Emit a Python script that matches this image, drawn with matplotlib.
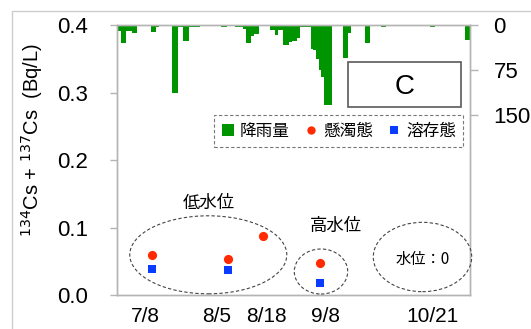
import numpy as np
import pandas as pd
import matplotlib
matplotlib.use('Agg')
import matplotlib.pyplot as plt
import matplotlib.dates as mdates
import matplotlib.transforms as mtransforms
from matplotlib.patches import Ellipse, Rectangle
from matplotlib.lines import Line2D

# ---------------- data ----------------
rain_start = '2011-06-26'
rain_mm = [10, 30, 30, 10, 10, 13, 13, 2, 2, 2,
           2, 2, 11, 11, 3, 0, 0, 0, 0, 0,
           113, 113, 3, 3, 26, 26, 3, 3, 3, 3,
           0, 0, 0, 0, 0, 0, 0, 0, 4, 4,
           0, 0, 0, 3, 3, 3, 6, 30, 30, 18,
           15, 15, 0, 0, 0, 0, 8, 8, 17, 8,
           8, 34, 34, 28, 26, 26, 22, 4, 4, 4,
           4, 40, 42, 57, 75, 86, 133, 133, 133, 0,
           0, 0, 0, 55, 55, 14, 0, 0, 0, 0,
           0, 30, 30, 0, 0, 0, 0, 3, 3, 0,
           0, 0, 0, 0, 0, 0, 0, 0, 0, 0,
           0, 0, 0, 0, 0, 3, 3, 0, 0, 0,
           0, 0, 0, 0, 0, 0, 0, 0, 25, 25]
susp_dates = ['2011-07-08', '2011-08-05', '2011-08-18', '2011-09-08']
susp_vals = [0.060, 0.054, 0.087, 0.048]
diss_dates = ['2011-07-08', '2011-08-05', '2011-09-08']
diss_vals = [0.038, 0.037, 0.018]
tick_dates = ['2011-07-08', '2011-08-05', '2011-08-18', '2011-09-08', '2011-10-21']
tick_labels = ['7/8', '8/5', '8/18', '9/8', '10/21']
left_ticks = [0.0, 0.1, 0.2, 0.3, 0.4]
right_ticks = [0, 75, 150]
legend_labels = ['降雨量', '懸濁態', '溶存態']

# ---------------- style ----------------
LAT = 'Liberation Sans'
CJK = ['Noto Sans CJK JP', 'DejaVu Sans']
plt.rcParams['font.family'] = [LAT, 'Noto Sans CJK JP', 'DejaVu Sans']
GREEN = '#009400'
RED = '#ff2a00'
BLUE = '#0a3cff'
SPINE = '#b4b4b4'

W, H = 531, 329
fig = plt.figure(figsize=(W / 100, H / 100), dpi=100)
L, R, T, B = 117, 470, 25, 295
ax = fig.add_axes([L / W, 1 - B / H, (R - L) / W, (B - T) / H])
ax2 = ax.twinx()

# outer chart border (only left/top visible)
fig.add_artist(Rectangle((12 / W, -0.2), 2, 1 - 10.7 / H + 0.2, transform=fig.transFigure,
                         fill=False, edgecolor='#cccccc', lw=1))

# rain bars
rain_dates = pd.date_range(rain_start, periods=len(rain_mm))
ax2.bar(mdates.date2num(rain_dates), rain_mm, width=1.0, color=GREEN, edgecolor='none',
        align='center', zorder=2)
ax2.set_ylim(450, 0)
ax2.set_yticks(right_ticks)
ax2.set_yticklabels([str(v) for v in right_ticks])

# Cs points
ax.plot(mdates.date2num(pd.to_datetime(susp_dates)), susp_vals, 'o', color=RED,
        markersize=6.6, markeredgewidth=0, zorder=5)
ax.plot(mdates.date2num(pd.to_datetime(diss_dates)), diss_vals, 's', color=BLUE,
        markersize=5.8, markeredgewidth=0, zorder=5)

x0 = mdates.date2num(pd.Timestamp('2011-07-08'))
ax.set_xlim(x0 - 13.0, x0 + 117.4)
ax.set_ylim(0, 0.4)
ax.set_yticks(left_ticks)
ax.set_yticklabels(['%.1f' % v for v in left_ticks])
ax.set_xticks(mdates.date2num(pd.to_datetime(tick_dates)))
ax.set_xticklabels(tick_labels)

for a in (ax, ax2):
    for s in a.spines.values():
        s.set_color(SPINE)
        s.set_linewidth(1.0)
ax.set_zorder(3)
ax2.set_zorder(2)
ax.patch.set_visible(False)

ax.tick_params(axis='y', direction='out', length=5, width=1, color=SPINE, pad=16,
               labelsize=16)
ax.tick_params(axis='x', length=0, pad=9, labelsize=15)
ax2.tick_params(axis='y', direction='out', length=6, width=1, color=SPINE, pad=11,
                labelsize=16)
for lab in ax.get_xticklabels() + ax.get_yticklabels() + ax2.get_yticklabels():
    lab.set_fontfamily(LAT)

# x tick labels sit slightly off their dates in the original
label_shift_px = [-7, -11, 3, 5, -3.5]
for lab, dx in zip(ax.get_xticklabels(), label_shift_px):
    lab.set_transform(lab.get_transform() +
                      mtransforms.ScaledTranslation(dx / 100, 0, fig.dpi_scale_trans))

# y label
fig.text(38.5 / W, 1 - 237 / H, r'$^{134}$Cs + $^{137}$Cs  (Bq/L)', rotation=90,
         rotation_mode='anchor', ha='left', va='baseline', fontsize=14.5, family=LAT)

# "C" box
ax.add_patch(Rectangle((0.655, 0.697), 0.3195, 0.165, transform=ax.transAxes,
                       fill=True, facecolor='white', edgecolor='#5a5a5a', lw=1.2,
                       zorder=6, clip_on=False))
ax.text(0.816, 0.772, 'C', transform=ax.transAxes, ha='center', va='center',
        fontsize=20, family=LAT, zorder=7)

# legend
handles = [Line2D([], [], ls='none', marker='s', color=GREEN, markersize=8, markeredgewidth=0),
           Line2D([], [], ls='none', marker='o', color=RED, markersize=6, markeredgewidth=0),
           Line2D([], [], ls='none', marker='s', color=BLUE, markersize=5.5, markeredgewidth=0)]
leg = ax.legend(handles, legend_labels, loc='center', bbox_to_anchor=(0.6275, 0.606),
                ncol=3, frameon=True, fancybox=False, handlelength=0.8, handletextpad=0.3,
                columnspacing=0.9, borderpad=0.45, prop={'family': CJK, 'size': 12})
fr = leg.get_frame()
fr.set_linestyle((0, (3, 2)))
fr.set_edgecolor('#555555')
fr.set_linewidth(0.8)
leg.set_zorder(8)

# ellipses and annotations
ell_kw = dict(transform=ax.transAxes, fill=False, edgecolor='#444444', lw=0.8,
              linestyle=(0, (3, 2)), clip_on=False, zorder=4)
ax.add_patch(Ellipse((0.2586, 0.1489), 0.4448, 0.2889, **ell_kw))
ax.add_patch(Ellipse((0.5779, 0.0870), 0.1513, 0.1667, **ell_kw))
ax.add_patch(Ellipse((0.8654, 0.1407), 0.2788, 0.2570, **ell_kw))
ax.text(0.2601, 0.3426, '低水位', transform=ax.transAxes, ha='center', va='center',
        fontsize=12.5, family=CJK)
ax.text(0.619, 0.2556, '高水位', transform=ax.transAxes, ha='center', va='center',
        fontsize=12.5, family=CJK)
ax.text(0.8669, 0.1333, '水位：0', transform=ax.transAxes, ha='center', va='center',
        fontsize=11, family=CJK)

fig.savefig('out.png', dpi=100)
